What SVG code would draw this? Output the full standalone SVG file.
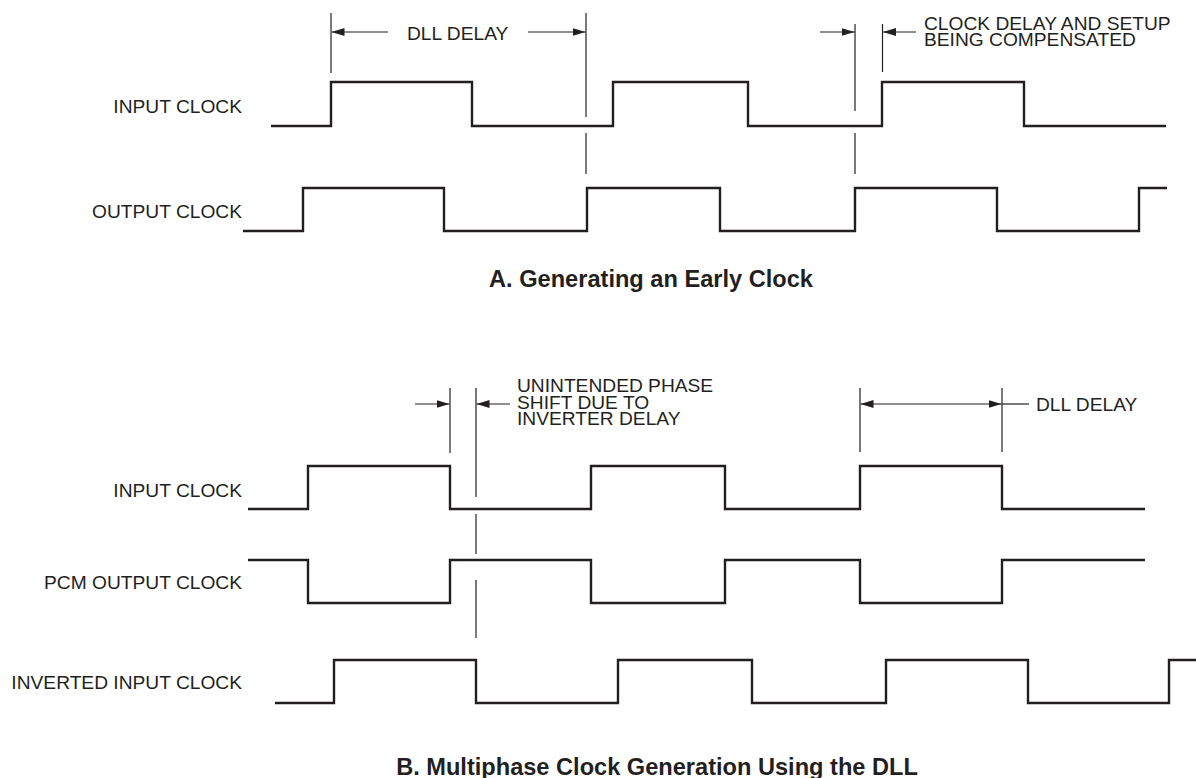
<svg xmlns="http://www.w3.org/2000/svg" width="1196" height="778" viewBox="0 0 1196 778">
<defs>
<marker id="ah" markerUnits="userSpaceOnUse" markerWidth="14" markerHeight="9" refX="13" refY="4" orient="auto">
<path d="M0,0 L13,4 L0,8 z" fill="#231f20"/>
</marker>
<style>
.wave{fill:none;stroke:#231f20;stroke-width:2.4;stroke-linejoin:miter;stroke-linecap:butt}
.dim{fill:none;stroke:#231f20;stroke-width:1.2}
.arr{fill:none;stroke:#231f20;stroke-width:1.2;marker-end:url(#ah)}
.lbl{font-family:"Liberation Sans",Arial,sans-serif;font-size:19.2px;fill:#231f20}
.ttl{font-family:"Liberation Sans",Arial,sans-serif;font-size:23.6px;font-weight:bold;fill:#231f20;text-anchor:middle}
.end{text-anchor:end}
</style>
</defs>
<rect width="1196" height="778" fill="#ffffff"/>

<g id="a-input-clock">
<text class="lbl end" x="242" y="112.5">INPUT CLOCK</text>
<path class="wave" d="M271,126 H331 V82 H472 V126 H613 V82 H748 V126 H882 V82 H1024 V126 H1166"/>
</g>
<g id="a-output-clock">
<text class="lbl end" x="242" y="217.7">OUTPUT CLOCK</text>
<path class="wave" d="M243,231 H303 V188 H444 V231 H587 V188 H720 V231 H855 V188 H997 V231 H1139 V188 H1167"/>
</g>
<g id="a-dll-delay-label">
<text class="lbl" x="407" y="40">DLL DELAY</text>
</g>
<g id="a-compensated-label">
<text class="lbl" x="924" y="29.5">CLOCK DELAY AND SETUP</text>
<text class="lbl" x="924" y="46">BEING COMPENSATED</text>
</g>
<g id="a-title">
<text class="ttl" x="651" y="287">A. Generating an Early Clock</text>
</g>

<g id="b-input-clock">
<text class="lbl end" x="242" y="496.7">INPUT CLOCK</text>
<path class="wave" d="M248,509 H308 V466 H450 V509 H591 V466 H725 V509 H860 V466 H1002 V509 H1145"/>
</g>
<g id="b-pcm-output-clock">
<text class="lbl end" x="242" y="589">PCM OUTPUT CLOCK</text>
<path class="wave" d="M248,560 H308 V603 H450 V560 H591 V603 H725 V560 H860 V603 H1002 V560 H1145"/>
</g>
<g id="b-inverted-input-clock">
<text class="lbl end" x="242" y="689">INVERTED INPUT CLOCK</text>
<path class="wave" d="M275,703 H334 V660 H476 V703 H618 V660 H752 V703 H886 V660 H1028 V703 H1169 V660 H1196"/>
</g>
<g id="b-phase-shift-label">
<text class="lbl" x="517" y="392">UNINTENDED PHASE</text>
<text class="lbl" x="517" y="408.5">SHIFT DUE TO</text>
<text class="lbl" x="517" y="425">INVERTER DELAY</text>
</g>
<g id="b-dll-delay-label">
<text class="lbl" x="1036" y="411">DLL DELAY</text>
</g>
<g id="b-title">
<text class="ttl" x="657" y="775">B. Multiphase Clock Generation Using the DLL</text>
</g>

<g id="connectors">
<line class="dim" x1="331" y1="13" x2="331" y2="73"/>
<line class="dim" x1="586" y1="13" x2="586" y2="117"/>
<line class="dim" x1="586" y1="133" x2="586" y2="174"/>
<line class="arr" x1="388" y1="32" x2="331.5" y2="32"/>
<line class="arr" x1="528" y1="32" x2="585.5" y2="32"/>
<line class="dim" x1="855" y1="24" x2="855" y2="111"/>
<line class="dim" x1="855" y1="133" x2="855" y2="174"/>
<line class="dim" x1="882.5" y1="24" x2="882.5" y2="72"/>
<line class="arr" x1="820" y1="32" x2="854.5" y2="32"/>
<line class="arr" x1="916" y1="32" x2="883" y2="32"/>
<line class="dim" x1="450" y1="388" x2="450" y2="453"/>
<line class="dim" x1="476" y1="388" x2="476" y2="497"/>
<line class="dim" x1="476" y1="514" x2="476" y2="554"/>
<line class="dim" x1="476" y1="580" x2="476" y2="638"/>
<line class="arr" x1="415" y1="404" x2="449.5" y2="404"/>
<line class="arr" x1="510" y1="404" x2="476.5" y2="404"/>
<line class="dim" x1="860" y1="388" x2="860" y2="452"/>
<line class="dim" x1="1002" y1="388" x2="1002" y2="452"/>
<line class="arr" x1="931" y1="404" x2="860.5" y2="404"/>
<line class="arr" x1="931" y1="404" x2="1001.5" y2="404"/>
<line class="dim" x1="1002" y1="404" x2="1029" y2="404"/>
</g>
</svg>
